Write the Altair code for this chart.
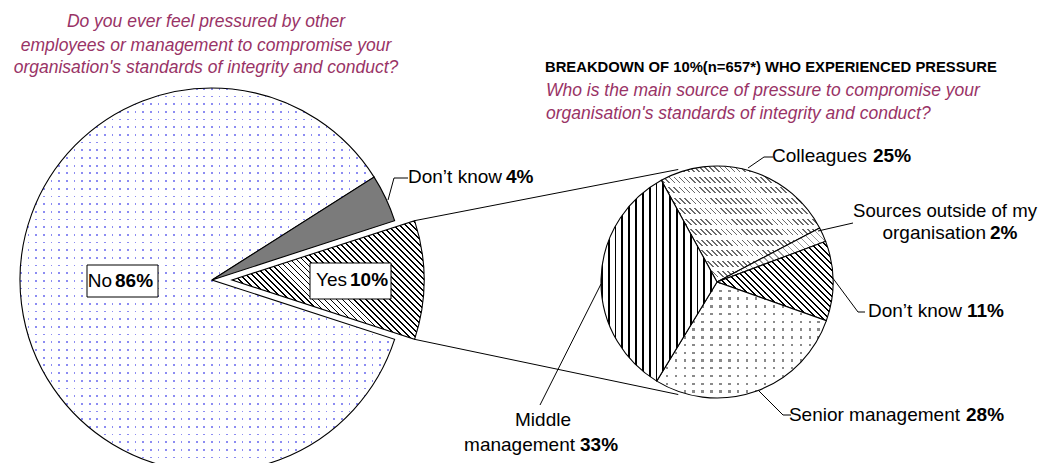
import math
import altair as alt
import pandas as pd

# ---------------- data ----------------
main_categories = ["Yes", "No", "Don't know"]
main_values = [10, 86, 4]

sub_categories = ["Colleagues", "Sources outside of my organisation", "Don't know",
                  "Senior management", "Middle management"]
sub_values = [25, 2, 11, 28, 33]

left_title = ["Do you ever feel pressured by other",
              "employees or management to compromise your",
              "organisation's standards of integrity and conduct?"]
breakdown_header = "BREAKDOWN OF 10%(n=657*) WHO EXPERIENCED PRESSURE"
right_title = ["Who is the main source of pressure to compromise your",
               "organisation's standards of integrity and conduct?"]

# ---------------- layout / style ----------------
M = 8  # page margin


def px(v):
    return v - M


MAIN = dict(cx=212, cy=280, r=192, start=72.0, explode=20)
SUB = dict(cx=717, cy=282, r=116, start=331.3)

FONT = "Liberation Sans"
PLUM = "#993366"
WHITE = "#ffffff"
CLEAR = "rgba(255,255,255,0)"
LABEL_SIZE = 19
TITLE_SIZE = 17.5

main_styles = [
    [("stripes", -45, 4.2, 1.3, "#000000", WHITE)],                       # Yes
    [("stripes", 90, 7.7, 1.7, "#8c8cf2", WHITE),
     ("stripes", 0, 7.7, 1.7, CLEAR, WHITE)],                             # No (dots)
    [("solid", "#7b7b7b")],                                               # Don't know
]
sub_styles = [
    [("stripes", -45, 3.6, 1.2, "#6a6a6a", WHITE),
     ("stripes", 90, 11, 6, CLEAR, WHITE)],                               # Colleagues
    [("stripes", -45, 5, 1.0, "#999999", WHITE)],                         # Sources
    [("stripes", -45, 4.5, 1.4, "#000000", WHITE)],                       # Don't know
    [("stripes", 90, 8, 2.4, "#8a8a8a", WHITE),
     ("stripes", 0, 9, 2.4, CLEAR, WHITE)],                               # Senior
    [("stripes", 0, 7, 1.8, "#000000", WHITE)],                           # Middle
]


def stripes(w, h, normal_deg, period, ink_w, ink, bg):
    nx, ny = math.cos(math.radians(normal_deg)), math.sin(math.radians(normal_deg))
    gx, gy = nx * w, ny * h
    g2 = gx * gx + gy * gy
    s = 0.5 * (abs(gx) + abs(gy)) / g2
    L = abs(nx) * w + abs(ny) * h
    n = max(1, round(L / period))
    f = min(0.95, ink_w / (L / n))
    stops = []
    for i in range(n):
        a, b, c = i / n, (i + f) / n, (i + 1) / n
        stops += [{"offset": round(a, 5), "color": ink},
                  {"offset": round(b, 5), "color": ink},
                  {"offset": round(b, 5), "color": bg},
                  {"offset": round(c, 5), "color": bg}]
    return {"gradient": "linear",
            "x1": 0.5 - gx * s, "y1": 0.5 - gy * s,
            "x2": 0.5 + gx * s, "y2": 0.5 + gy * s,
            "stops": stops}


def sector_angles(values, start):
    total = sum(values)
    out, acc = [], 0
    for v in values:
        a0 = start + acc / total * 360
        acc += v
        out.append((a0, start + acc / total * 360))
    return out


def sector_bbox(a0, a1, r):
    pts = [(0.0, 0.0)]
    angs = [a0, a1] + [k * 90 for k in range(int(a0 // 90), int(a1 // 90) + 2) if a0 <= k * 90 <= a1]
    for a in angs:
        pts.append((r * math.sin(math.radians(a)), -r * math.cos(math.radians(a))))
    xs, ys = zip(*pts)
    return max(xs) - min(xs), max(ys) - min(ys)


def pie(categories, values, geom, styles, explode_index=None):
    df = pd.DataFrame({"category": categories, "value": values, "order": list(range(len(values)))})
    total = sum(values)
    start = math.radians(geom["start"])
    theta_scale = alt.Scale(domain=[0, total], range=[start, start + 2 * math.pi])
    base = (alt.Chart(df)
            .transform_window(cum="sum(value)", sort=[alt.SortField("order")], frame=[None, 0])
            .transform_calculate(t0="datum.cum - datum.value"))
    layers = []
    for i, (a0, a1) in enumerate(sector_angles(values, geom["start"])):
        w, h = sector_bbox(a0, a1, geom["r"])
        cx = geom["cx"] + (geom.get("explode", 0) if i == explode_index else 0)
        fills = styles[i]
        for j, st in enumerate(fills):
            fill = st[1] if st[0] == "solid" else stripes(w, h, *st[1:])
            kw = dict(fill=fill, x=px(cx), y=px(geom["cy"]), radius=geom["r"])
            if j == len(fills) - 1:
                kw.update(stroke="#000000", strokeWidth=1.1)
            layers.append(
                base.transform_filter(alt.FieldEqualPredicate(field="order", equal=i))
                .mark_arc(**kw)
                .encode(theta=alt.Theta("t0:Q", scale=theta_scale, stack=False),
                        theta2="cum:Q")
            )
    return alt.layer(*layers)


main_pie = pie(main_categories, main_values, MAIN, main_styles, explode_index=0)
sub_pie = pie(sub_categories, sub_values, SUB, sub_styles)

# ---------------- connector + leader lines ----------------
yes_a0, yes_a1 = sector_angles(main_values, MAIN["start"])[0]


def on_circle(cx, cy, r, a):
    return cx + r * math.sin(math.radians(a)), cy - r * math.cos(math.radians(a))


ycx = MAIN["cx"] + MAIN["explode"]
p_up = on_circle(ycx, MAIN["cy"], MAIN["r"], yes_a0)
p_dn = on_circle(ycx, MAIN["cy"], MAIN["r"], yes_a1)
q_up = on_circle(SUB["cx"], SUB["cy"], SUB["r"] + 3, -19)
q_dn = on_circle(SUB["cx"], SUB["cy"], SUB["r"] + 3, 199)

segments = [
    (p_up[0], p_up[1], q_up[0], q_up[1]),
    (p_dn[0], p_dn[1], q_dn[0], q_dn[1]),
    (408, 178, 394, 178), (394, 178, 388, 200),      # Don't know 4%
    (773, 157, 764, 157), (764, 157, 748, 168),      # Colleagues
    (853, 223, 818, 231),                            # Sources
    (865, 312, 858, 312), (858, 312, 832, 277),      # Don't know 11%
    (791, 415, 783, 415), (783, 415, 758, 390),      # Senior
    (540, 405, 601, 284),                            # Middle
]
seg_df = pd.DataFrame([dict(x=px(a), y=px(b), x2=px(c), y2=px(d)) for a, b, c, d in segments])
rules = alt.Chart(seg_df).mark_rule(color="#000000", strokeWidth=1).encode(
    x=alt.X("x:Q", scale=None, axis=None), y=alt.Y("y:Q", scale=None, axis=None),
    x2="x2:Q", y2="y2:Q")

box_df = pd.DataFrame([dict(x=px(87), y=px(265), x2=px(158), y2=px(297)),
                       dict(x=px(310), y=px(263), x2=px(391), y2=px(299))])
boxes = alt.Chart(box_df).mark_rect(fill=WHITE, stroke="#000000", strokeWidth=1).encode(
    x=alt.X("x:Q", scale=None, axis=None), y=alt.Y("y:Q", scale=None, axis=None),
    x2="x2:Q", y2="y2:Q")

# ---------------- texts ----------------
def pct(v):
    return f"{v}%"


texts = []  # (text, x, y, align, weight, style, size, color)
for line, y in zip(left_title, [22, 46, 68]):
    texts.append((line, 206, y, "center", "normal", "italic", TITLE_SIZE, PLUM))
for line, y in zip(right_title, [91, 114]):
    texts.append((line, 546, y, "left", "normal", "italic", TITLE_SIZE, PLUM))
texts.append((breakdown_header, 545, 68, "left", "bold", "normal", 14.8, "#000000"))

# split labels: normal part right-aligned, bold percentage left-aligned
split_labels = [
    ("No", pct(main_values[1]), 112, 115, 281),
    ("Yes", pct(main_values[0]), 347, 350, 280),
    ("Don\u2019t know", pct(main_values[2]), 502, 506, 177),
    (sub_categories[0], pct(sub_values[0]), 867, 873, 156),
    ("organisation", pct(sub_values[1]), 986, 990, 233),
    ("Don\u2019t know", pct(sub_values[2]), 962, 967, 311),
    (sub_categories[3], pct(sub_values[3]), 960, 966, 415),
    ("management", pct(sub_values[4]), 575, 580, 445),
]
for name, p, xr, xl, y in split_labels:
    texts.append((name, xr, y, "right", "normal", "normal", LABEL_SIZE, "#000000"))
    texts.append((p, xl, y, "left", "bold", "normal", LABEL_SIZE, "#000000"))
texts.append(("Sources outside of my", 945, 211, "center", "normal", "normal", 18.6, "#000000"))
texts.append(("Middle", 543, 420, "center", "normal", "normal", LABEL_SIZE, "#000000"))

tdf = pd.DataFrame(texts, columns=["text", "x", "y", "align", "weight", "style", "size", "color"])
tdf["x"] = tdf["x"].map(px)
tdf["y"] = tdf["y"].map(px)
text_layers = []
for (align, weight, style, size, color), g in tdf.groupby(["align", "weight", "style", "size", "color"]):
    text_layers.append(
        alt.Chart(g[["text", "x", "y"]].reset_index(drop=True)).mark_text(
            align=align, baseline="middle", font=FONT, fontSize=float(size),
            fontWeight=weight, fontStyle=style, color=color
        ).encode(x=alt.X("x:Q", scale=None, axis=None),
                 y=alt.Y("y:Q", scale=None, axis=None),
                 text="text:N")
    )

chart = (
    alt.layer(main_pie, sub_pie, rules, boxes, *text_layers)
    .resolve_scale(theta="independent")
    .properties(width=1031, height=455, padding=0,
                autosize=alt.AutoSizeParams(type="none"))
    .configure_view(strokeWidth=0)
)

chart.save("out.html", embed_options={"renderer": "svg", "actions": False})
